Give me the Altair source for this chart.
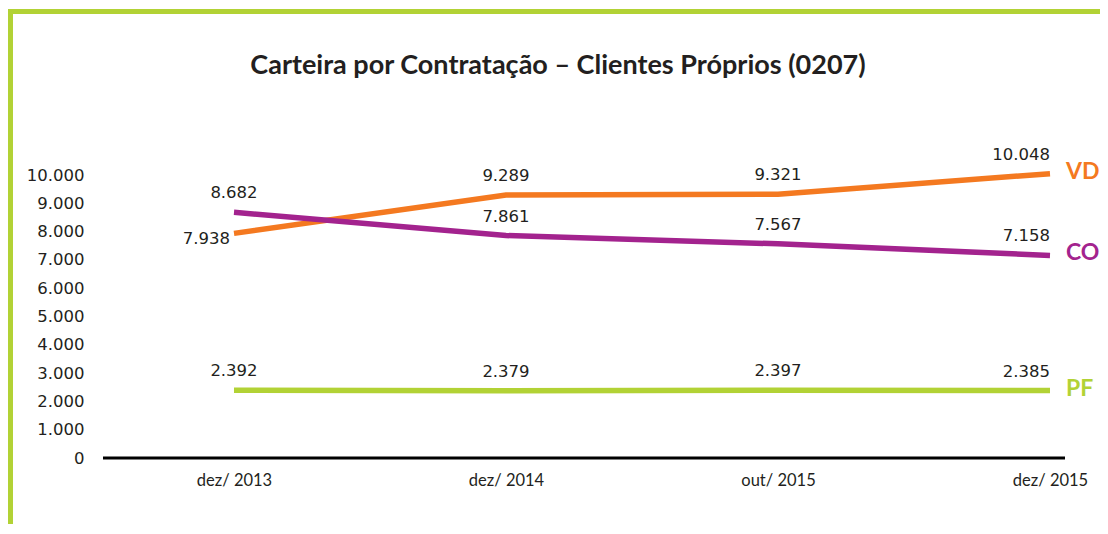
import altair as alt
import pandas as pd

dates = ["dez/ 2013", "dez/ 2014", "out/ 2015", "dez/ 2015"]
vd = [7938, 9289, 9321, 10048]
co = [8682, 7861, 7567, 7158]
pf = [2392, 2379, 2397, 2385]
series_names = ["VD", "CO", "PF"]
series_colors = ["#F47920", "#A3238E", "#B2D235"]
y_ticks = [0, 1000, 2000, 3000, 4000, 5000, 6000, 7000, 8000, 9000, 10000]
title_text = "Carteira por Contratação – Clientes Próprios (0207)"

rows = []
for name, vals in zip(series_names, [vd, co, pf]):
    for i, (d, v) in enumerate(zip(dates, vals)):
        rows.append({"date": d, "series": name, "value": v, "idx": i,
                     "label": f"{v:,}".replace(",", ".")})
df = pd.DataFrame(rows)

W, H = 816, 283
TXT = "#231F20"
GREEN = "#B2D235"

x_axis = alt.Axis(title=None, domain=False, ticks=False, grid=False, labelAngle=0,
                  labelPadding=14, labelFont="Lato", labelFontSize=16.5,
                  labelColor=TXT)
y_scale = alt.Scale(domain=[0, 10000], nice=False)
y_axis = alt.Axis(title=None, domain=False, ticks=False, grid=False,
                  values=y_ticks, labelOverlap=False,
                  labelExpr="replace(format(datum.value, ','), ',', '.')",
                  labelPadding=150, labelFont="DejaVu Sans",
                  labelFontSize=16.5, labelColor=TXT)

x = alt.X("date:N", sort=dates, scale=alt.Scale(type="point", padding=0), axis=x_axis)
y = alt.Y("value:Q", scale=y_scale, axis=y_axis)
color = alt.Color("series:N", scale=alt.Scale(domain=series_names, range=series_colors),
                  legend=None)

base = alt.Chart(df)
one = alt.Chart(pd.DataFrame({"a": [0]}))

baseline = one.mark_rule(color="black", strokeWidth=3).encode(
    x=alt.value(-131), x2=alt.value(831),
    y=alt.Y(datum=0, type="quantitative", scale=y_scale, axis=y_axis))

lines = base.mark_line(strokeWidth=5.5).encode(x=x, y=y, color=color)

lab_center = base.transform_filter(
    "(datum.idx > 0 && datum.idx < 3) || (datum.idx == 0 && datum.series != 'VD')"
).mark_text(dy=-19, baseline="middle", align="center", font="DejaVu Sans",
            fontSize=16.5, color=TXT).encode(x=x, y=y, text="label:N")

lab_right = base.transform_filter("datum.idx == 3").mark_text(
    dy=-19, baseline="middle", align="right", font="DejaVu Sans",
    fontSize=16.5, color=TXT).encode(x=x, y=y, text="label:N")

lab_first = base.transform_filter("datum.idx == 0 && datum.series == 'VD'").mark_text(
    dx=-4, dy=6, baseline="middle", align="right", font="DejaVu Sans",
    fontSize=16.5, color=TXT).encode(x=x, y=y, text="label:N")

names = base.transform_filter("datum.idx == 3").mark_text(
    dx=16, dy=-2, baseline="middle", align="left", font="Lato",
    fontSize=23, fontWeight="bold").encode(x=x, y=y, text="series:N", color=color)

title = one.mark_text(font="Lato", fontSize=27, fontWeight="bold", color=TXT,
                      align="center", baseline="middle").encode(
    x=alt.value(324), y=alt.value(-109), text=alt.value(title_text))

border_left = one.mark_rule(color=GREEN, strokeWidth=5).encode(
    x=alt.value(-223.5), y=alt.value(-166), y2=alt.value(380))
border_top = one.mark_rule(color=GREEN, strokeWidth=5).encode(
    x=alt.value(-226), x2=alt.value(900), y=alt.value(-163.5))

chart = alt.layer(
    border_left, border_top, baseline, lines, lab_center, lab_right, lab_first, names, title
).properties(
    width=W, height=H,
    background="white",
    autosize=alt.AutoSizeParams(type="none"),
    padding={"left": 226, "top": 167, "right": 50, "bottom": 66},
).configure_view(strokeWidth=0, stroke="transparent")

chart.save("out.html", embed_options={"renderer": "svg", "actions": False})
